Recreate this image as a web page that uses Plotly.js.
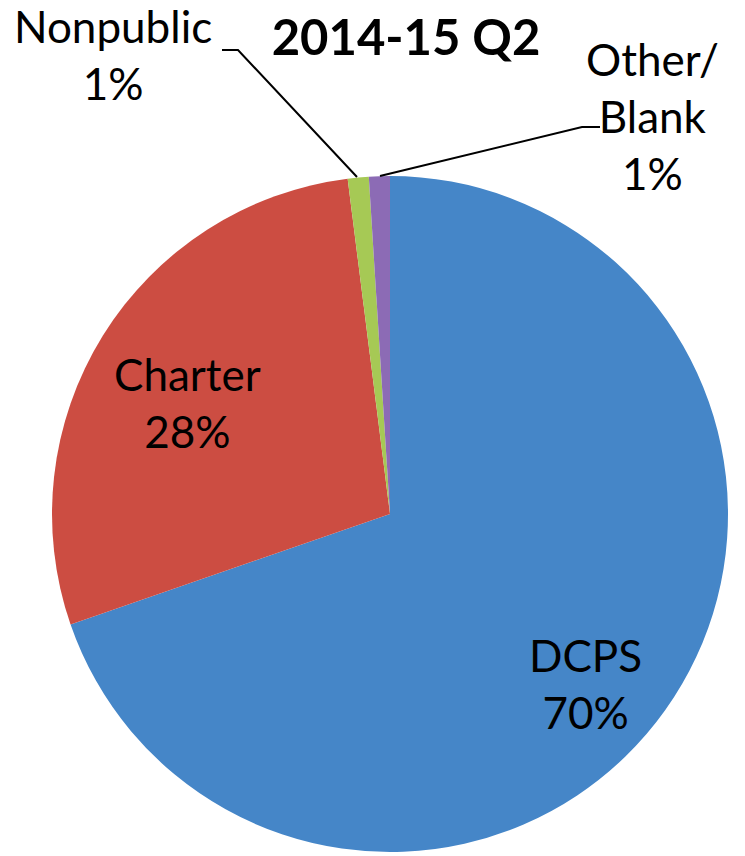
<!DOCTYPE html>
<html>
<head>
<meta charset="utf-8">
<script src="https://cdn.plot.ly/plotly-3.0.1.min.js"></script>
<style>html,body{margin:0;padding:0;background:#fff;}#chart{width:745px;height:856px;}</style>
</head>
<body>
<div id="chart"></div>
<script>
const chartTitle = "2014-15 Q2";
const categories = ["DCPS", "Charter", "Nonpublic", "Other/<br>Blank"];
const values = [69.7, 28.3, 1.0, 1.0];
const sliceColors = ["#4586c8", "#cc4d42", "#a6c955", "#8c6bb5"];

const W = 745, H = 856;
const px = x => x / W;
const py = y => 1 - y / H;

const total = values.reduce((a, b) => a + b, 0);
const pctText = values.map(v => Math.round(v / total * 100) + "%");

// label centres (pixels) for each category
const labelPos = [[585, 683], [187, 403], [113, 55], [652, 116]];

const annotations = categories.map((c, i) => ({
  text: c + "<br>" + pctText[i],
  x: px(labelPos[i][0]), y: py(labelPos[i][1]),
  xref: "paper", yref: "paper",
  xanchor: "center", yanchor: "middle",
  showarrow: false,
  font: {family: "Lato, 'Open Sans', sans-serif", size: 44, color: "#000"}
}));

const leader = (pts) => ({
  type: "path", xref: "paper", yref: "paper",
  path: pts.map((p, i) => (i ? "L" : "M") + px(p[0]) + "," + py(p[1])).join(" "),
  line: {color: "#000", width: 2}
});

const R = 338, cx = 390, cy = 514;
const trace = {
  type: "pie",
  labels: categories,
  values: values,
  sort: false,
  direction: "clockwise",
  rotation: 0,
  textinfo: "none",
  hoverinfo: "label+percent",
  marker: {colors: sliceColors, line: {width: 0}},
  domain: {x: [px(cx - R), px(cx + R)], y: [py(cy + R), py(cy - R)]}
};

const layout = {
  width: W, height: H,
  margin: {l: 0, r: 0, t: 0, b: 0},
  paper_bgcolor: "#fff",
  showlegend: false,
  title: {
    text: "<b>" + chartTitle + "</b>",
    x: px(406), xanchor: "center", xref: "paper",
    y: py(38), yanchor: "middle", yref: "container",
    font: {family: "Lato, 'Open Sans', sans-serif", size: 49, color: "#000"}
  },
  annotations: annotations,
  shapes: [
    leader([[222, 50], [238, 50], [357, 177]]),
    leader([[600, 127], [582, 127], [380, 176]])
  ]
};

Plotly.newPlot("chart", [trace], layout, {displayModeBar: false, staticPlot: true});
</script>
</body>
</html>
